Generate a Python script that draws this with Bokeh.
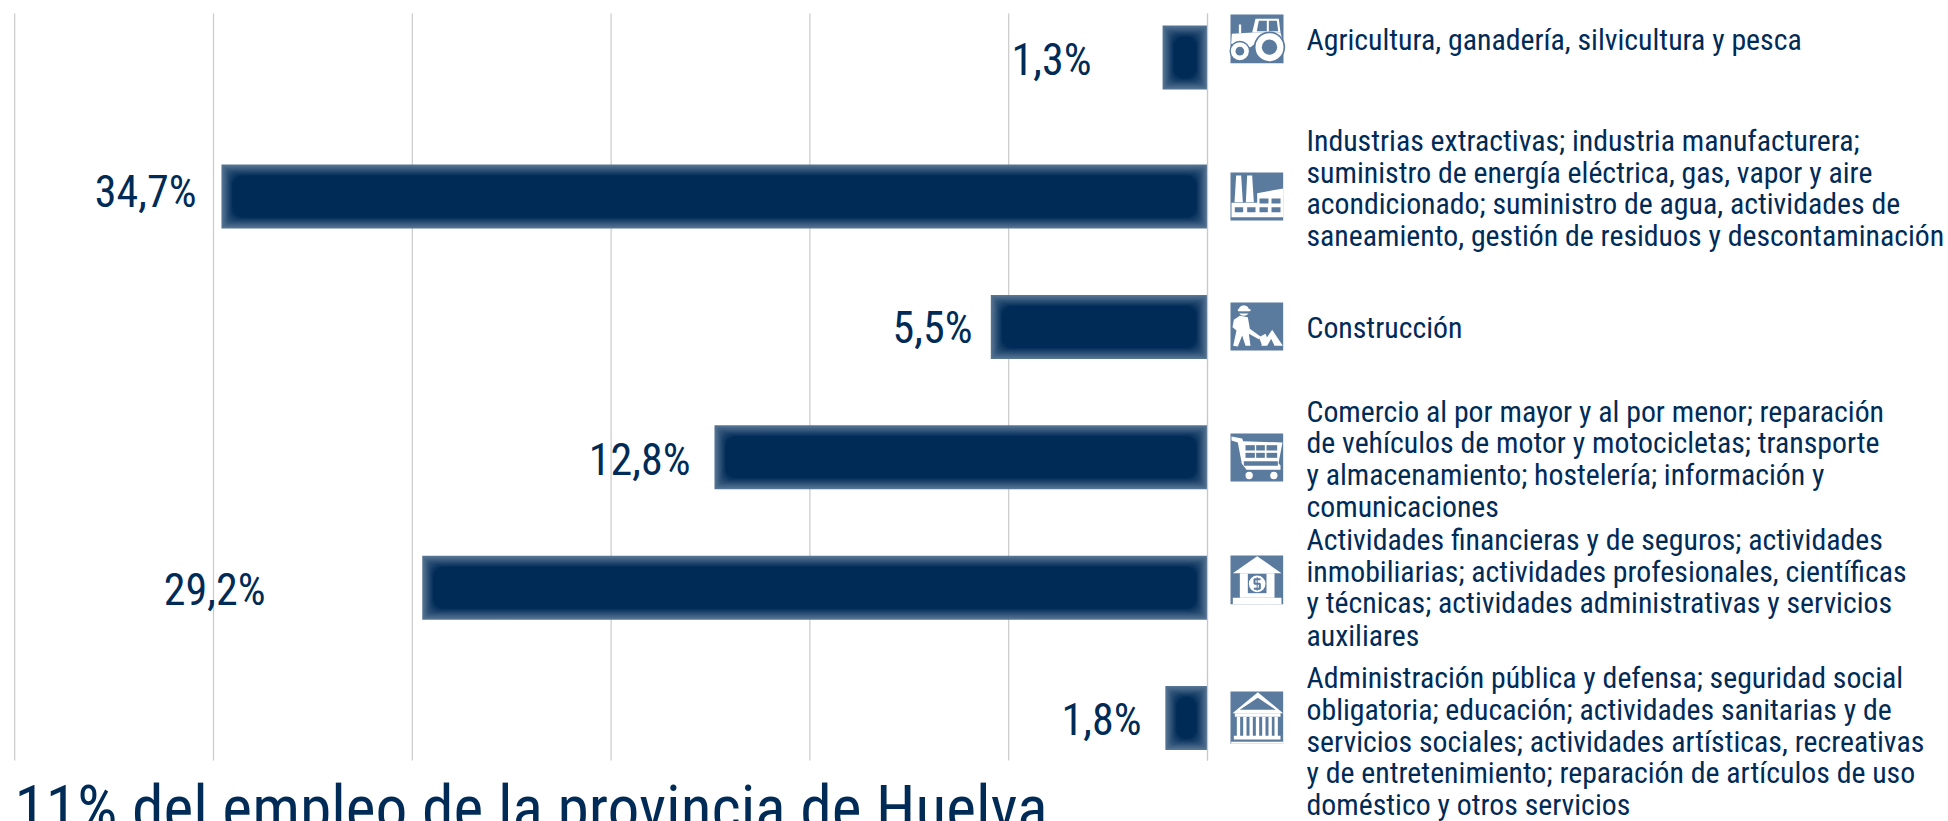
from bokeh.plotting import figure
from bokeh.models import Range1d
from bokeh.core.properties import value
from bokeh.embed import file_html
from bokeh.resources import INLINE

# ---- data ----
sectors = ["Agricultura", "Industria", "Construcción", "Comercio", "Financieras", "Administración"]
bar_lengths = [1.13, 24.8, 5.45, 12.4, 19.75, 1.06]      # lengths on the gridline scale
row_positions = [-0.066, 1, 2, 3, 4, 5]
bar_labels = ["1,3%", "34,7%", "5,5%", "12,8%", "29,2%", "1,8%"]
grid_ticks = [0, 5, 10, 15, 20, 25, 30]
label_right = [1091, 196, 972, 690, 265, 1141]           # page x of label right edge
label_base = [76, 208, 344, 476, 606, 736]
desc_lines = [
    "Agricultura, ganadería, silvicultura y pesca",
    "Industrias extractivas; industria manufacturera;",
    "suministro de energía eléctrica, gas, vapor y aire",
    "acondicionado; suministro de agua, actividades de",
    "saneamiento, gestión de residuos y descontaminación",
    "Construcción",
    "Comercio al por mayor y al por menor; reparación",
    "de vehículos de motor y motocicletas; transporte",
    "y almacenamiento; hostelería; información y",
    "comunicaciones",
    "Actividades financieras y de seguros; actividades",
    "inmobiliarias; actividades profesionales, científicas",
    "y técnicas; actividades administrativas y servicios",
    "auxiliares",
    "Administración pública y defensa; seguridad social",
    "obligatoria; educación; actividades sanitarias y de",
    "servicios sociales; actividades artísticas, recreativas",
    "y de entretenimiento; reparación de artículos de uso",
    "doméstico y otros servicios",
]
desc_base = [50, 151, 183, 214, 246, 338, 422, 453, 485, 517, 550, 582, 613, 646, 688, 720, 752, 783, 815]
title = "11% del empleo de la provincia de Huelva"

NAVY = "#002b57"
EDGE = (88, 118, 148)
ICON = "#5a7a9e"
GRID = "#c9c9c9"
FONT = value("Roboto Condensed")

W, H = 1948, 821
PX_X = 198.8 / 5     # px per scale unit
PX_Y = 130.4         # px per row
X0, Y0 = 1207.0, 65.6

x_range = Range1d(X0 / PX_X, (X0 - W) / PX_X)
y_range = Range1d((H - Y0) / PX_Y, (0 - Y0) / PX_Y)

p = figure(width=W, height=H, x_range=x_range, y_range=y_range, toolbar_location=None,
           output_backend="svg", min_border=0, outline_line_color=None,
           background_fill_color="white", border_fill_color="white")
p.axis.visible = False
p.grid.visible = False
p.extra_x_ranges = {"px": Range1d(0, W)}
p.extra_y_ranges = {"px": Range1d(H, 0)}
PXK = dict(x_range_name="px", y_range_name="px")

# gridlines
p.segment(x0=grid_ticks, x1=grid_ticks, y0=[(13 - Y0) / PX_Y] * 7, y1=[(760 - Y0) / PX_Y] * 7,
          line_color=GRID, line_width=1.2)

# bars with soft edges
BAR_H = 64 / PX_Y
LAYERS = 12
for i in range(LAYERS):
    t = i / (LAYERS - 1)
    col = "#%02x%02x%02x" % tuple(round(e + (c - e) * t) for e, c in zip(EDGE, (0, 43, 87)))
    dx = i / PX_X
    dy = i / PX_Y
    p.quad(left=[v - dx for v in bar_lengths], right=[dx] * 6,
           top=[r - BAR_H / 2 + dy for r in row_positions],
           bottom=[r + BAR_H / 2 - dy for r in row_positions],
           fill_color=col, line_color=None, border_radius=round(i * 0.9))
p.segment(x0=[0], x1=[0], y0=[(13 - Y0) / PX_Y], y1=[(760 - Y0) / PX_Y], line_color=GRID, line_width=1.2)

# value labels
p.text(x=label_right, y=label_base, y_offset=-17, text=bar_labels, text_font=FONT, text_font_size="44px",
       text_color=NAVY, text_align="right", text_baseline="alphabetic", **PXK)

# descriptions
p.text(x=[1306] * len(desc_lines), y=desc_base, y_offset=-11, text=desc_lines, text_font=FONT,
       text_font_size="29.8px", text_color=NAVY, text_align="left", text_baseline="alphabetic", **PXK)

# title, cut by the lower edge of the page
p.text(x=[14], y=[800], y_offset=[8], text=[title], text_font=FONT, text_font_size="63.5px",
       text_color=NAVY, text_align="left", text_baseline="alphabetic", **PXK)


# ---- pictograms (decoration, in page pixels, from zoomed reference coords) ----
class Icon:
    def __init__(self, ox, oy):
        self.ox, self.oy = ox, oy
    def X(self, v): return self.ox + v / 3
    def Y(self, v): return self.oy + v / 3
    def poly(self, pts, color="white"):
        p.patch([self.X(a) for a, b in pts], [self.Y(b) for a, b in pts],
                fill_color=color, line_color=None, **PXK)
    def rect(self, x0, y0, x1, y1, color="white"):
        self.poly([(x0, y0), (x1, y0), (x1, y1), (x0, y1)], color)
    def circ(self, cx, cy, r, color="white"):
        p.ellipse(x=[self.X(cx)], y=[self.Y(cy)], width=2 * r / 3, height=2 * r / 3,
                  fill_color=color, line_color=None, **PXK)
    def path(self, pts, color="white", w=1.5):
        p.line([self.X(a) for a, b in pts], [self.Y(b) for a, b in pts], line_color=color, line_width=w, **PXK)

# tractor
a = Icon(1140, 0)
a.rect(270, 42, 429, 188, ICON)
a.rect(295, 72, 302, 98)
a.poly([(274, 100), (338, 96), (420, 96), (428, 125), (345, 128), (330, 140), (272, 130)])
a.poly([(335, 96), (345, 55), (415, 55), (420, 96)])
a.poly([(349, 92), (355, 61), (379, 61), (379, 92)], ICON)
a.poly([(385, 61), (409, 61), (413, 92), (385, 92)], ICON)
a.circ(298, 152, 31, ICON)
a.circ(298, 152, 27)
a.circ(298, 152, 13, ICON)
a.circ(387, 140, 47, ICON)
a.circ(387, 140, 42)
a.circ(387, 140, 23, ICON)

# factory
b = Icon(1200, 160)
b.rect(90, 36, 248, 180, ICON)
b.poly([(107, 45), (122, 45), (127, 125), (102, 125)])
b.poly([(140, 45), (155, 45), (160, 125), (136, 125)])
b.poly([(170, 98), (248, 84), (248, 130), (170, 130)])
b.rect(93, 127, 248, 170)
for x0, x1 in [(177, 204), (213, 240)]:
    b.rect(x0, 114, x1, 129, ICON)
for x0, x1 in [(103, 128), (140, 165), (177, 202), (213, 240)]:
    b.rect(x0, 140, x1, 155, ICON)

# worker
c = Icon(1200, 160)
c.rect(90, 426, 248, 570, ICON)
c.circ(130, 450, 16)
c.poly([(112, 452), (150, 452), (150, 459), (112, 459)], ICON)
c.rect(112, 446, 150, 452)
c.poly([(100, 478), (118, 466), (142, 470), (148, 505), (180, 528), (175, 536), (145, 520),
        (150, 556), (135, 556), (125, 525), (112, 558), (98, 556), (108, 510), (96, 500)])
c.poly([(175, 530), (195, 520), (205, 545), (185, 555)])
c.poly([(182, 556), (215, 508), (247, 556), (222, 556), (212, 535), (200, 556)])

# cart
d = Icon(1200, 420)
d.rect(90, 39, 248, 183, ICON)
d.poly([(93, 48), (125, 54), (128, 62), (246, 66), (234, 128), (240, 135), (240, 148), (138, 148),
        (124, 130), (112, 66), (93, 60)])
for y0, y1 in [(74, 90), (97, 112)]:
    for x0, x1 in [(135, 163), (167, 193), (198, 230)]:
        d.rect(x0, y0, x1, y1, ICON)
d.rect(130, 122, 232, 136, ICON)
d.circ(146, 165, 11)
d.circ(220, 165, 11)

# bank
e = Icon(1200, 420)
e.rect(90, 405, 248, 551, ICON)
e.poly([(170, 407), (243, 458), (97, 458)])
e.rect(118, 458, 222, 532)
e.rect(142, 460, 198, 518, ICON)
e.circ(170, 490, 25)
e.path([(180, 476), (162, 476), (162, 490), (178, 490), (178, 505), (160, 505)], ICON, 2)
e.path([(170, 470), (170, 511)], ICON, 1)
e.rect(97, 532, 243, 551)

# public building
f = Icon(1200, 420)
f.rect(90, 813, 248, 970, ICON)
f.poly([(172, 815), (248, 878), (96, 878)])
f.poly([(172, 832), (226, 868), (118, 868)], ICON)
f.rect(103, 878, 240, 889)
for x0 in [109, 128, 147, 166, 185, 204, 222]:
    f.rect(x0, 889, x0 + 10, 948)
f.rect(100, 946, 240, 957)
f.rect(92, 964, 248, 970)

open("out.html", "w").write(file_html(p, INLINE))
